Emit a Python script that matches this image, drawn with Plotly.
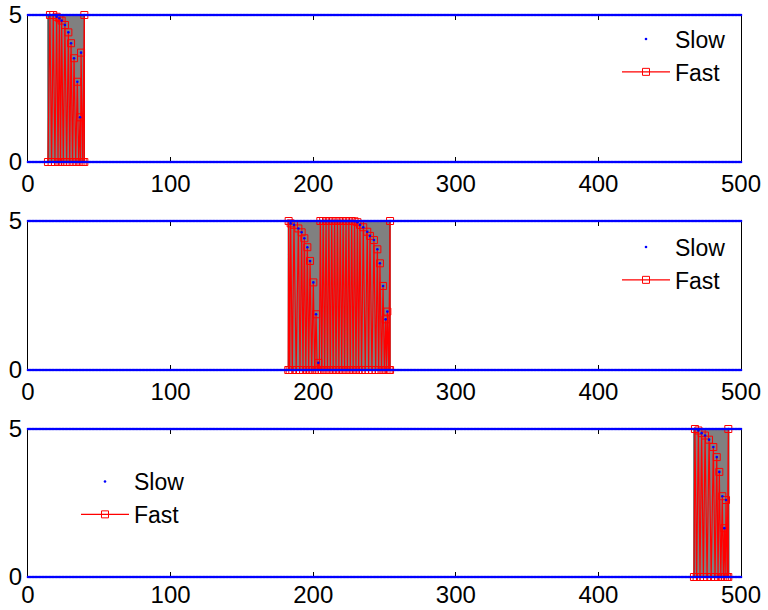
import plotly.graph_objects as go

# ---------------- data ----------------
x_all = list(range(0, 501))                     # slow signal sample grid
level_hi = 5.0
level_lo = 0.0

# burst 1
gray1 = [14.0, 39.5]
top1_x = [15.4, 17.7, 20.1, 22.0, 23.6, 25.9, 28.3, 30.2, 32.3, 34.6, 36.5, 37.2, 39.5]
top1_v = [5.0, 5.0, 4.94, 4.89, 4.81, 4.66, 4.41, 4.04, 3.53, 2.73, 1.52, 3.72, 5.0]

# burst 2
gray2 = [182.5, 253.9]
top2_x = [182.8, 184.2, 186.5, 189.6, 191.9, 193.8, 195.9, 197.8, 200.1, 202.0, 203.6,
          205.0, 207.0, 209.0, 211.0, 213.0, 215.0, 217.0, 219.0, 221.0, 223.0, 225.0,
          227.0, 229.0, 231.0, 232.8, 235.1, 237.9, 239.8, 242.6, 245.0, 246.8, 249.0,
          250.8, 252.0, 253.9]
top2_v = [5.0, 4.92, 4.87, 4.75, 4.62, 4.42, 4.12, 3.66, 2.94, 1.87, 0.24,
          5.0, 5.0, 5.0, 5.0, 5.0, 5.0, 5.0, 5.0, 5.0, 5.0, 5.0,
          5.0, 4.99, 4.96, 4.87, 4.79, 4.64, 4.5, 4.36, 4.05, 3.58, 2.82,
          1.70, 1.96, 5.0]

# burst 3
gray3 = [467.0, 491.5]
top3_x = [467.7, 470.1, 472.4, 474.8, 477.6, 480.6, 483.0, 484.8, 486.9, 488.3, 489.5, 491.1]
top3_v = [5.0, 4.95, 4.86, 4.78, 4.64, 4.39, 4.05, 3.55, 2.73, 1.65, 2.6, 5.0]

x_ticks = [0, 100, 200, 300, 400, 500]
y_ticks = [0, 5]

# ---------------- helpers ----------------
def zigzag(start, xs, vs):
    zx, zy = [start], [0.0]
    for i, (x, v) in enumerate(zip(xs, vs)):
        zx.append(x); zy.append(v)
        if i + 1 < len(xs):
            zx.append((x + xs[i + 1]) / 2.0); zy.append(0.0)
        else:
            zx.append(x); zy.append(0.0)
    return zx, zy

FONT = "Liberation Sans, Arial, sans-serif"
W, H = 768, 610
ML, MR, MT, MB = 28, 27, 15, 33
PH = H - MT - MB
panels_px = [(15, 162), (221, 370), (429, 577)]
domains = [[(H - MB - b) / PH, (H - MB - t) / PH] for t, b in panels_px]

bursts = [(gray1, top1_x, top1_v), (gray2, top2_x, top2_v), (gray3, top3_x, top3_v)]
legend_names = ["legend", "legend2", "legend3"]

fig = go.Figure()
for i, (gray, tx, tv) in enumerate(bursts):
    ax = "" if i == 0 else str(i + 1)
    xr, yr = "x" + ax, "y" + ax
    # gray patch
    fig.add_trace(go.Scatter(
        x=[gray[0], gray[1], gray[1], gray[0], gray[0]],
        y=[level_lo, level_lo, level_hi, level_hi, level_lo],
        fill="toself", fillcolor="#808080", mode="lines",
        line=dict(color="#222222", width=1), showlegend=False,
        hoverinfo="skip", xaxis=xr, yaxis=yr))
    # fast (red zigzag)
    zx, zy = zigzag(gray[0], tx, tv)
    fig.add_trace(go.Scatter(
        x=zx, y=zy, mode="lines+markers", name="Fast",
        line=dict(color="red", width=1.2),
        marker=dict(symbol="square-open", size=7, color="red", line=dict(width=1)),
        cliponaxis=False, legend=legend_names[i], legendrank=2,
        xaxis=xr, yaxis=yr))
    # slow (blue dots)
    sx = x_all + x_all + tx
    sy = [level_hi] * len(x_all) + [level_lo] * len(x_all) + tv
    fig.add_trace(go.Scatter(
        x=sx, y=sy, mode="markers", name="Slow",
        marker=dict(symbol="circle", size=2.6, color="blue", line=dict(width=0)),
        cliponaxis=False, legend=legend_names[i], legendrank=1,
        xaxis=xr, yaxis=yr))

ax_common = dict(showgrid=False, zeroline=False, showline=True, linecolor="black",
                 linewidth=1, mirror="ticks", ticks="inside", ticklen=5,
                 tickcolor="black", tickwidth=1, layer="below traces",
                 automargin=False,
                 tickfont=dict(family=FONT, size=24, color="black"))

layout = dict(width=W, height=H, margin=dict(l=ML, r=MR, t=MT, b=MB, autoexpand=False),
              paper_bgcolor="white", plot_bgcolor="white",
              font=dict(family=FONT, size=24, color="black"))

for i in range(3):
    sfx = "" if i == 0 else str(i + 1)
    layout["xaxis" + sfx] = dict(ax_common, range=[0, 500], tickvals=x_ticks,
                                 anchor="y" + sfx, domain=[0, 1],
                                 ticklabelstandoff=(-4 if i == 2 else 0))
    layout["yaxis" + sfx] = dict(ax_common, range=[0, 5], tickvals=y_ticks,
                                 anchor="x" + sfx, domain=domains[i])

def ypaper(py):
    return (H - MB - py) / PH

def xpaper(px):
    return (px - ML) / (W - ML - MR)

leg_common = dict(bgcolor="rgba(0,0,0,0)", borderwidth=0, itemwidth=48,
                  font=dict(family=FONT, size=23, color="black"),
                  xanchor="left", yanchor="top", traceorder="normal")
layout["legend"] = dict(leg_common, x=xpaper(617), y=ypaper(17.5))
layout["legend2"] = dict(leg_common, x=xpaper(617), y=ypaper(225.5))
layout["legend3"] = dict(leg_common, x=xpaper(76), y=ypaper(460))

fig.update_layout(**layout)
fig.write_html("out.html")
